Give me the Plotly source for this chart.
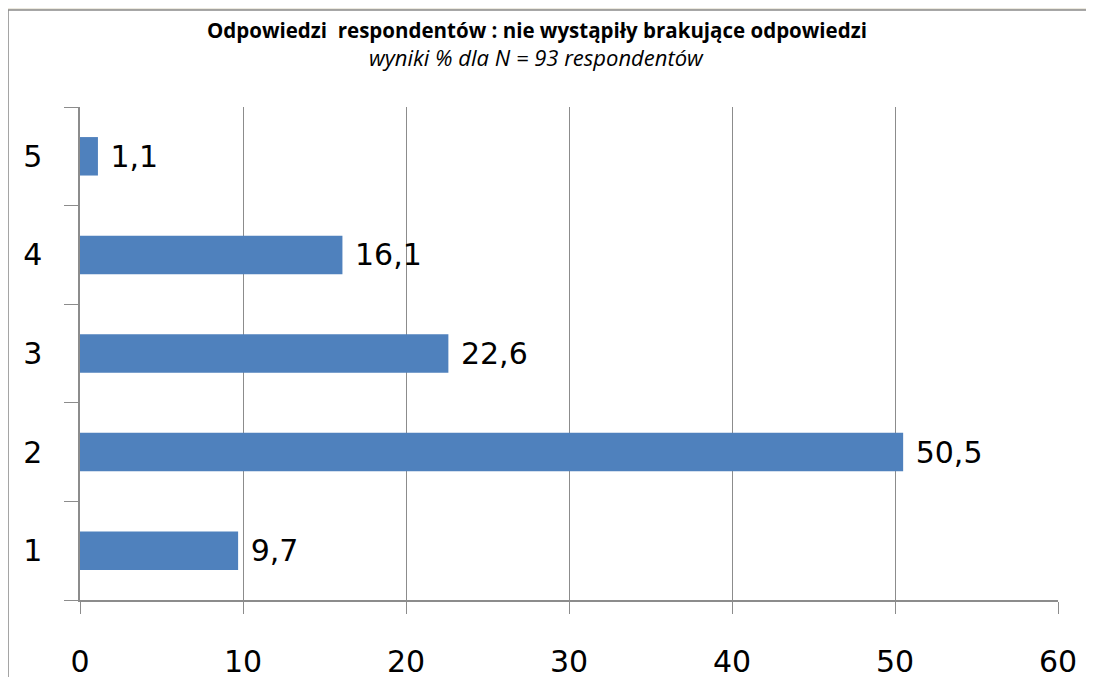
import plotly.graph_objects as go

# odpowiedzi respondentow, wyniki %
categories = ["1", "2", "3", "4", "5"]
values = [9.7, 50.5, 22.6, 16.1, 1.1]
x_ticks = [0, 10, 20, 30, 40, 50, 60]

title = "<b>Odpowiedzi  respondentów : nie wystąpiły brakujące odpowiedzi</b>"
subtitle = "<i>wyniki % dla N = 93 respondentów</i>"

grid = "#8c8c8c"
num_font = "DejaVu Sans"
title_font = "Open Sans"

fig = go.Figure()
fig.add_trace(go.Bar(
    x=values,
    y=categories,
    orientation="h",
    marker=dict(color="#4F81BD", line=dict(width=0)),
    texttemplate=" %{x:.1f}",
    textposition="outside",
    textfont=dict(size=30, color="black", family=num_font),
    cliponaxis=False,
    width=0.39,
))

# bialy panel wykresu na bezowym tle
fig.add_shape(type="rect", xref="paper", yref="paper",
              x0=-0.0736, x1=1.2, y0=-0.3, y1=1.1968,
              fillcolor="white", line=dict(color="#8a8a8a", width=1.5),
              layer="below")

fig.add_annotation(text=title, xref="paper", yref="paper", x=0.467, y=1.156,
                   xanchor="center", yanchor="middle", showarrow=False,
                   font=dict(size=20.5, family=title_font, color="black"))
fig.add_annotation(text=subtitle, xref="paper", yref="paper", x=0.467, y=1.101,
                   xanchor="center", yanchor="middle", showarrow=False,
                   font=dict(size=22, family=title_font, color="black"))

fig.update_xaxes(range=[0, 60], tickvals=x_ticks, showgrid=True, gridcolor=grid, gridwidth=1,
                 showline=True, linecolor=grid, linewidth=1.5, ticks="outside", ticklen=12,
                 tickcolor=grid, tickfont=dict(size=30, family=num_font, color="black"),
                 ticklabelstandoff=22, zeroline=False, automargin=False)
fig.update_yaxes(type="category", showgrid=False, showline=True, linecolor=grid, linewidth=1.5,
                 ticks="outside", tickson="boundaries", ticklen=14, tickcolor=grid,
                 tickfont=dict(size=30, family=num_font, color="black"), ticklabelstandoff=30,
                 automargin=False)

# strona ma 8px marginesu body, wiec marginesy sa przesuniete
fig.update_layout(
    width=1094, height=677,
    margin=dict(l=72, r=44, t=99, b=85),
    paper_bgcolor="#ECE9DF",
    plot_bgcolor="white",
    separators=", ",
    showlegend=False,
)

fig.write_html("out.html")
